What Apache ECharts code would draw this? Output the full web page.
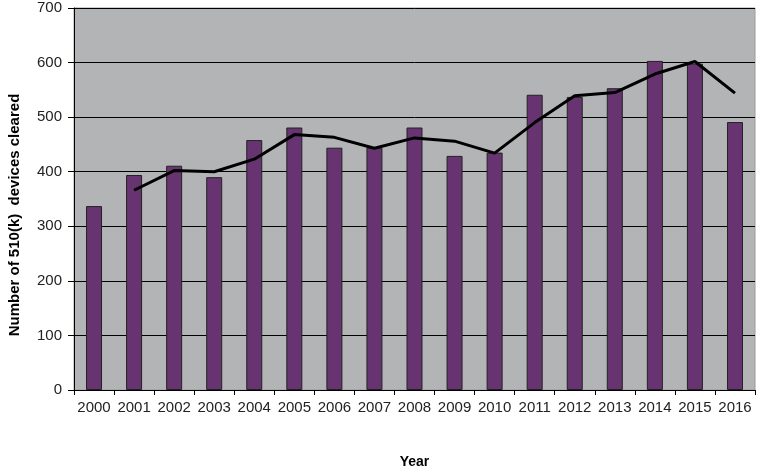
<!DOCTYPE html>
<html>
<head>
<meta charset="utf-8">
<script src="https://cdn.jsdelivr.net/npm/echarts@6/dist/echarts.min.js"></script>
<style>
  html, body { margin: 0; padding: 0; background: #fff; }
  #chart { width: 758px; height: 470px; }
</style>
</head>
<body>
<div id="chart"></div>
<script>
// data
const years = ["2000", "2001", "2002", "2003", "2004", "2005", "2006", "2007", "2008",
  "2009", "2010", "2011", "2012", "2013", "2014", "2015", "2016"];
const cleared = [337, 394, 411, 390, 458, 481, 444, 444, 481, 429, 435, 541, 537, 553, 603, 598, 491];
// trend line (2 yr moving average), no value for 2000
const trend = [null, 366, 402, 400, 423, 468, 463, 443, 462, 456, 434, 490, 539, 545, 579, 602, 544];

const chart = echarts.init(document.getElementById("chart"));

const font = "Arial, 'Liberation Sans', sans-serif";

chart.setOption({
  animation: false,
  grid: {
    left: 74,
    right: 3,
    top: 8,
    bottom: 80,
    outerBoundsMode: "none",
    containLabel: false,
    show: true,
    backgroundColor: "#b3b4b6",
    borderColor: "#9a9a9a",
    borderWidth: 1,
  },
  xAxis: {
    type: "category",
    data: years,
    name: "Year",
    nameLocation: "middle",
    nameGap: 65,
    nameTextStyle: { fontFamily: font, fontWeight: "bold", fontSize: 14, color: "#000" },
    axisLine: { lineStyle: { color: "#000", width: 1 } },
    axisTick: { show: true, alignWithLabel: false, length: 5, lineStyle: { color: "#000" } },
    axisLabel: { fontFamily: font, fontSize: 15, color: "#222", margin: 10, interval: 0 },
  },
  yAxis: {
    type: "value",
    min: 0,
    max: 700,
    interval: 100,
    name: "Number of 510(k)  devices cleared",
    nameLocation: "middle",
    nameGap: 52,
    // push the title a little below the plot centre, as in the original
    nameTextStyle: { fontFamily: font, fontWeight: "bold", fontSize: 15, color: "#000", padding: [0, 32, 0, 0] },
    axisLine: { show: true, lineStyle: { color: "#000" } },
    axisTick: { show: true, length: 6, lineStyle: { color: "#000" } },
    axisLabel: { fontFamily: font, fontSize: 15, color: "#222", margin: 12 },
    splitLine: { lineStyle: { color: "#000", width: 1 } },
  },
  series: [
    {
      name: "Cleared",
      type: "bar",
      data: cleared,
      barWidth: 16,
      itemStyle: { color: "#673471", borderColor: "#222", borderWidth: 1 },
    },
    {
      name: "Trend",
      type: "line",
      data: trend,
      symbol: "none",
      smooth: false,
      lineStyle: { color: "#000", width: 3 },
    },
  ],
});
</script>
</body>
</html>
